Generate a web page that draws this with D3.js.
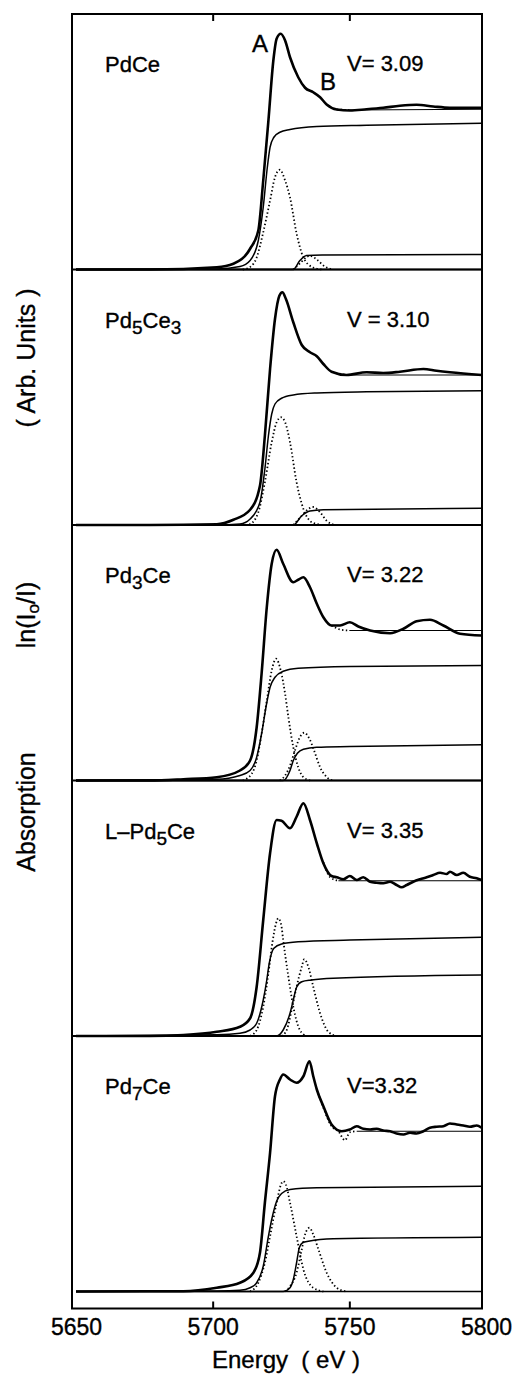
<!DOCTYPE html>
<html><head><meta charset="utf-8">
<script src="https://cdn.jsdelivr.net/npm/d3@7"></script>
<style>
body{margin:0;background:#fff}
svg{display:block}
text{font-family:"Liberation Sans",Arial,sans-serif;fill:#000;stroke:#000;stroke-width:0.35px}
</style>
</head><body>
<svg id="chart" width="516" height="1374"></svg>
<script>
// ---------- DATA (energy eV, absorption arb. units; baseline = 0) ----------
const energyTicks = [5650, 5700, 5750, 5800];
const panelLabels = [
  [["PdCe",0]],
  [["Pd",0],["5",1],["Ce",0],["3",1]],
  [["Pd",0],["3",1],["Ce",0]],
  [["L\u2013Pd",0],["5",1],["Ce",0]],
  [["Pd",0],["7",1],["Ce",0]]
];
const valenceLabels = ["V= 3.09","V = 3.10","V= 3.22","V= 3.35","V=3.32"];
const peakLabels = ["A","B"];
const yTitleParts = ["Absorption", "ln(I|o|/I)", "( Arb. Units )"];

// Panel 1: PdCe
const p1Main = [[5650,0],[5677,0],[5701.5,0.09],[5707.6,0.23],[5713.7,0.83],[5716.7,1.56],[5718.5,3.56],[5720.4,5.96],[5722.2,8.36],[5723.4,9.23],[5724.9,9.43],[5726.5,9.16],[5728.3,8.49],[5731.3,7.69],[5733.8,7.27],[5736.8,7.09],[5739.3,6.89],[5741.7,6.6],[5745.4,6.4],[5750.2,6.36],[5756.3,6.41],[5762.4,6.47],[5768.5,6.55],[5774.6,6.59],[5780.7,6.52],[5786.8,6.47],[5798.4,6.47]];
const p1Fit = [[5745.4,6.4],[5750.2,6.38],[5798.4,6.41]];
const p1Step1 = [[5650,0],[5701.5,0.02],[5710,0.12],[5713.7,0.36],[5716.7,1.16],[5718.5,2.49],[5720.0,4.09],[5721.0,4.89],[5722.4,5.29],[5724.6,5.49],[5728.3,5.6],[5738.1,5.72],[5756.3,5.77],[5798.4,5.85]];
const p1Gauss1 = [[5711,0],[5713.7,0.1],[5716.1,0.48],[5718.4,1.44],[5721,2.76],[5722.8,3.69],[5724.6,3.99],[5726.5,3.56],[5728.3,2.88],[5730.7,1.44],[5733.2,0.48],[5736.7,0.08],[5740,0]];
const p1Step2 = [[5650,0],[5729.5,0],[5731.9,0.36],[5734.4,0.56],[5740,0.58],[5798.4,0.6]];
const p1Gauss2 = [[5729.5,0],[5732,0.25],[5734.4,0.5],[5735.6,0.55],[5738.1,0.4],[5741,0.12],[5744,0]];

// Panel 2: Pd5Ce3
const p2Main = [[5650,0],[5677,0],[5701.5,0.03],[5707.6,0.21],[5713.7,0.61],[5717.3,1.57],[5719.1,3.57],[5721,6.24],[5722.8,8.24],[5724.4,9.17],[5725.5,9.31],[5726.8,9.04],[5729.5,8.11],[5732.6,7.2],[5735.6,6.91],[5738.1,6.75],[5740.5,6.44],[5743.5,6.13],[5749,6.0],[5756.3,6.11],[5762.4,6.08],[5768.5,6.13],[5777.1,6.24],[5781.9,6.17],[5786.8,6.11],[5798.4,6.0]];
const p2Fit = [[5745,6.08],[5749,6.0],[5798.4,6.0]];
const p2Step1 = [[5650,0],[5701.5,0],[5710,0.04],[5713.7,0.24],[5717.3,0.91],[5719.1,2.24],[5720.4,3.57],[5721.6,4.44],[5722.8,4.84],[5725.2,5.07],[5729.5,5.2],[5738.1,5.28],[5756.3,5.33],[5798.4,5.37]];
const p2Gauss1 = [[5712,0],[5713.7,0.04],[5716.7,0.51],[5719.1,1.71],[5721.6,3.31],[5723.4,4.11],[5725,4.31],[5726.5,4.11],[5728.3,3.31],[5730.7,1.71],[5733.2,0.64],[5736.8,0.08],[5740.5,0]];
const p2Step2 = [[5650,0],[5729.5,0],[5732.6,0.37],[5735.6,0.56],[5740.5,0.61],[5798.4,0.67]];
const p2Gauss2 = [[5729.5,0],[5732.6,0.37],[5735,0.64],[5736.8,0.72],[5739.3,0.51],[5741.7,0.17],[5744.8,0]];

// Panel 3: Pd3Ce
const p3Main = [[5650,0],[5677,0],[5689.3,0.05],[5701.5,0.13],[5710,0.4],[5713.7,0.8],[5716.1,2.13],[5717.9,4.27],[5719.8,6.93],[5721.6,8.67],[5723.4,9.23],[5725.8,8.67],[5729.5,7.93],[5731.3,8.03],[5733.2,8.13],[5735.6,7.73],[5738.1,7.07],[5740.5,6.53],[5743.5,6.2],[5746.6,6.2],[5750.2,6.33],[5753.3,6.16],[5757.6,6.0],[5764.9,5.89],[5769.8,6.07],[5774.6,6.37],[5779.5,6.43],[5784.4,6.2],[5790.5,5.87],[5798.4,5.8]];
const p3Fit = [[5743.5,6.2],[5747,6.03],[5750,6.0],[5798.4,6.0]];
const p3Step1 = [[5650,0],[5701.5,0.05],[5710,0.2],[5713.7,0.4],[5716.1,0.93],[5717.9,1.87],[5719.5,2.93],[5721,3.73],[5722.8,4.13],[5725.8,4.37],[5731.3,4.49],[5750.2,4.56],[5798.4,4.6]];
const p3Gauss1 = [[5711,0],[5714.3,0.27],[5716.1,0.8],[5717.9,1.87],[5719.8,3.2],[5721.6,4.4],[5723.2,4.87],[5724.9,4.4],[5726.5,3.47],[5727.7,2.53],[5729.5,1.33],[5731.3,0.53],[5733.4,0.11],[5736,0]];
const p3Step2 = [[5650,0],[5725.8,0],[5728.3,0.4],[5729.5,0.8],[5731,1.09],[5733.2,1.25],[5738.1,1.33],[5750.2,1.36],[5798.4,1.43]];
const p3Gauss2 = [[5724.6,0],[5726.5,0.2],[5728.3,0.6],[5730.1,1.2],[5731.9,1.73],[5733.5,1.91],[5735.4,1.67],[5737.1,1.2],[5739.3,0.53],[5742,0.11],[5744.1,0]];

// Panel 4: L-Pd5Ce
const p4Main = [[5650,0],[5677,0],[5689.3,0.04],[5701.5,0.17],[5710,0.37],[5713.7,0.71],[5716.1,1.97],[5718.5,4.64],[5721,7.31],[5723.4,8.64],[5725.2,8.61],[5728.3,8.31],[5730.7,8.77],[5733.2,9.31],[5735.6,8.64],[5738.1,7.71],[5740.5,6.91],[5743.5,6.4],[5745.4,6.35],[5747.8,6.27],[5750.2,6.4],[5752.7,6.24],[5755.1,6.35],[5757.6,6.17],[5760,6.13],[5762.4,6.11],[5764.9,6.17],[5767.3,6.04],[5769.1,5.95],[5771,6.04],[5773.4,6.17],[5775.9,6.27],[5778.3,6.35],[5780.7,6.44],[5783.2,6.53],[5785.6,6.48],[5786.8,6.57],[5789.3,6.44],[5791.7,6.53],[5794.1,6.37],[5796.6,6.31],[5798.4,6.24]];
const p4Fit = [[5740.5,6.95],[5743,6.35],[5746,6.21],[5798.4,6.21]];
const p4Step1 = [[5650,0],[5701.5,0.05],[5710,0.11],[5713.7,0.24],[5716.1,0.51],[5718.5,1.44],[5719.8,2.24],[5720.7,2.91],[5722.4,3.51],[5725.2,3.68],[5731.3,3.77],[5750.2,3.84],[5798.4,3.95]];
const p4Gauss1 = [[5713.7,0],[5716.1,0.24],[5718.5,1.17],[5720.4,2.51],[5721.9,3.77],[5723.2,4.51],[5724,4.71],[5725.1,4.44],[5725.8,3.84],[5727.7,2.37],[5729.5,1.17],[5731.9,0.24],[5734.4,0]];
const p4Step2 = [[5650,0],[5723.4,0],[5725.8,0.24],[5728.3,0.91],[5729.5,1.44],[5730.7,1.95],[5732.6,2.17],[5736.2,2.24],[5744.1,2.31],[5798.4,2.44]];
const p4Gauss2 = [[5725.2,0],[5727.1,0.24],[5728.9,1.04],[5730.7,1.97],[5732.6,2.77],[5733.5,3.07],[5735,2.77],[5736.8,1.97],[5739.3,0.91],[5742.3,0.17],[5745.4,0]];

// Panel 5: Pd7Ce
const p5Main = [[5650,0],[5677,0.01],[5689.3,0.01],[5701.5,0.15],[5710,0.35],[5714.9,0.75],[5717.3,1.55],[5719.1,3.55],[5721,5.55],[5722.8,7.81],[5724.6,8.48],[5725.8,8.68],[5728.3,8.48],[5730.7,8.35],[5733.2,8.61],[5735.4,9.21],[5736.8,8.61],[5738.1,8.08],[5740.5,7.41],[5743.5,6.68],[5747.2,6.41],[5750.2,6.48],[5752.7,6.61],[5755.1,6.51],[5757.6,6.48],[5760,6.51],[5762.4,6.44],[5764.9,6.41],[5767.3,6.32],[5769.8,6.28],[5772.2,6.35],[5774.6,6.32],[5777.1,6.41],[5779.5,6.55],[5781.9,6.59],[5784.4,6.61],[5786.8,6.72],[5789.3,6.68],[5791.7,6.64],[5794.1,6.59],[5796.6,6.64],[5798.4,6.55]];
const p5Fit = [[5738.1,8.08],[5740.5,7.35],[5743.5,6.61],[5746,6.41],[5748.4,6.05],[5750.2,6.37],[5752.7,6.41],[5798.4,6.41]];
const p5Step1 = [[5650,0],[5701.5,0.02],[5710,0.05],[5713.7,0.15],[5716.1,0.35],[5718.5,1.01],[5720.4,2.21],[5721.6,2.88],[5723.4,3.61],[5725.2,3.92],[5728.3,4.08],[5738.1,4.15],[5798.4,4.21]];
const p5Gauss1 = [[5713.7,0],[5716.7,0.35],[5719.1,1.15],[5721,2.21],[5723.4,3.55],[5725,4.28],[5725.8,4.41],[5726.8,4.28],[5728.3,3.55],[5730.7,2.21],[5733.2,0.88],[5736.8,0.15],[5740.5,0]];
const p5Step2 = [[5650,0],[5725.8,0],[5728.3,0.15],[5729.5,0.48],[5730.7,1.15],[5731.7,1.75],[5732.9,1.95],[5735,2.01],[5744.1,2.11],[5798.4,2.17]];
const p5Gauss2 = [[5726.5,0],[5728.3,0.21],[5730.7,0.75],[5732.6,1.68],[5733.8,2.28],[5735.4,2.55],[5736.8,2.28],[5738.7,1.68],[5741.7,0.75],[5745.4,0.15],[5749,0]];

const panels = [
  {main:p1Main, fit:p1Fit, steps:[p1Step1,p1Step2], gauss:[p1Gauss1,p1Gauss2]},
  {main:p2Main, fit:p2Fit, steps:[p2Step1,p2Step2], gauss:[p2Gauss1,p2Gauss2]},
  {main:p3Main, fit:p3Fit, steps:[p3Step1,p3Step2], gauss:[p3Gauss1,p3Gauss2]},
  {main:p4Main, fit:p4Fit, steps:[p4Step1,p4Step2], gauss:[p4Gauss1,p4Gauss2]},
  {main:p5Main, fit:p5Fit, steps:[p5Step1,p5Step2], gauss:[p5Gauss1,p5Gauss2]}
];

// ---------- LAYOUT ----------
const frameL = 72, frameR = 482, frameTop = 14, panelH = 255.5, bottomGap = 17;
const nP = panels.length;
const frameBottom = frameTop + nP*panelH + bottomGap;
const x = d3.scaleLinear().domain([5650, 5800]).range([76, 486]);

const svg = d3.select("#chart");
svg.append("defs").append("clipPath").attr("id","clip")
  .append("rect").attr("x",frameL).attr("y",frameTop).attr("width",frameR-frameL).attr("height",frameBottom-frameTop);

const plot = svg.append("g").attr("clip-path","url(#clip)");

panels.forEach((p, i) => {
  const top = frameTop + i*panelH;
  const base = top + panelH;
  const y = d3.scaleLinear().domain([0,10]).range([base, base-250]);
  const line = d3.line().x(d=>x(d[0])).y(d=>y(d[1])).curve(d3.curveMonotoneX);
  const g = plot.append("g");
  g.append("path").attr("d", line([[5650,0],[5800,0]]))
    .attr("fill","none").attr("stroke","#000").attr("stroke-width",1.4);
  p.steps.forEach(s => g.append("path").attr("d", line(s))
    .attr("fill","none").attr("stroke","#000").attr("stroke-width",1.5));
  p.gauss.forEach(s => g.append("path").attr("d", line(s))
    .attr("fill","none").attr("stroke","#000").attr("stroke-width",1.8)
    .attr("stroke-dasharray","1.4 2.4"));
  // fit curve: dotted where it departs from the data, solid on its flat last segment
  const fitDots = p.fit.slice(0, -1);
  const fitFlat = p.fit.slice(-2);
  g.append("path").attr("d", line(fitDots))
    .attr("fill","none").attr("stroke","#000").attr("stroke-width",1.8).attr("stroke-dasharray","1.4 2.4");
  g.append("path").attr("d", line(fitFlat))
    .attr("fill","none").attr("stroke","#000").attr("stroke-width",1.2);
  g.append("path").attr("d", line(p.main))
    .attr("fill","none").attr("stroke","#000").attr("stroke-width",2.6).attr("stroke-linejoin","round");

  // sample label with subscripts
  const lab = svg.append("text").attr("x",105).attr("y",top+58).attr("font-size",22);
  let shifted = 0;
  panelLabels[i].forEach(([t,sub]) => {
    const ts = lab.append("tspan").text(t);
    const want = sub ? 6 : 0;
    ts.attr("dy", want - shifted);
    if (sub) ts.attr("font-size",19);
    shifted = want;
  });
  svg.append("text").attr("x",347).attr("y",top+57).attr("font-size",22)
    .attr("xml:space","preserve").text(valenceLabels[i]);

  if (i < nP-1) {
    svg.append("line").attr("x1",frameL).attr("x2",frameR).attr("y1",base).attr("y2",base)
      .attr("stroke","#000").attr("stroke-width",2);
  }
});

svg.append("text").attr("x",252).attr("y",frameTop+38).attr("font-size",24).text(peakLabels[0]);
svg.append("text").attr("x",320).attr("y",frameTop+76).attr("font-size",24).text(peakLabels[1]);

// frame
svg.append("rect").attr("x",frameL).attr("y",frameTop).attr("width",frameR-frameL).attr("height",frameBottom-frameTop)
  .attr("fill","none").attr("stroke","#000").attr("stroke-width",2);

// x axes
const axB = d3.axisBottom(x).tickValues(energyTicks).tickFormat(d3.format("d")).tickSizeInner(-7).tickSizeOuter(0).tickPadding(10);
const gB = svg.append("g").attr("transform",`translate(0,${frameBottom})`).call(axB);
gB.select(".domain").remove();
gB.selectAll(".tick line").attr("stroke-width",2).filter(d=>d===5650||d===5800).remove();
gB.selectAll(".tick text").attr("font-size",23).attr("font-family","Liberation Sans, Arial, sans-serif");

const axT = d3.axisTop(x).tickValues(energyTicks.slice(1,3)).tickSizeInner(-7).tickSizeOuter(0).tickFormat("");
const gT = svg.append("g").attr("transform",`translate(0,${frameTop})`).call(axT);
gT.select(".domain").remove();
gT.selectAll(".tick line").attr("stroke-width",2);

// axis titles
svg.append("text").attr("x",286).attr("y",1368).attr("text-anchor","middle").attr("font-size",24)
  .attr("xml:space","preserve").text("Energy  ( eV )");

const yCenters = [812, 615, 358];
yTitleParts.forEach((s, k) => {
  const t = svg.append("text").attr("transform",`translate(35,${yCenters[k]}) rotate(-90)`)
    .attr("text-anchor","middle").attr("font-size",25).attr("xml:space","preserve");
  const bits = s.split("|");
  bits.forEach((b, j) => {
    const ts = t.append("tspan").text(b);
    if (j === 1) ts.attr("font-size",17).attr("dy",4);
    if (j === 2) ts.attr("dy",-4);
  });
});
</script>
</body></html>
